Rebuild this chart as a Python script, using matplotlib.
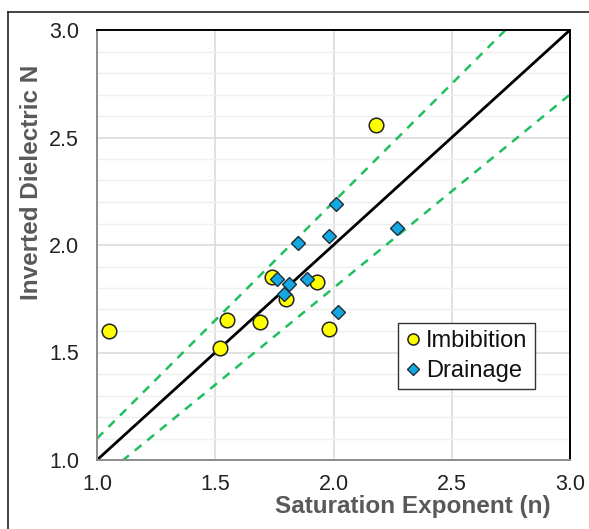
import matplotlib
matplotlib.use("Agg")
import matplotlib.pyplot as plt
import numpy as np
from matplotlib.lines import Line2D
from matplotlib.ticker import MultipleLocator

plt.rcParams['font.family'] = ['Liberation Sans', 'DejaVu Sans']

# Imbibition measurements: saturation exponent n vs inverted dielectric N
imb_n = [1.05, 1.52, 1.55, 1.69, 1.74, 1.80, 1.93, 1.98, 2.18]
imb_N = [1.60, 1.52, 1.65, 1.64, 1.85, 1.75, 1.83, 1.61, 2.56]

# Drainage measurements
dra_n = [1.76, 1.79, 1.81, 1.85, 1.89, 1.98, 2.01, 2.02, 2.27]
dra_N = [1.84, 1.77, 1.82, 2.01, 1.84, 2.04, 2.19, 1.69, 2.08]

# 1:1 reference line and +/-10 % bounds
ref_x = [1.0, 3.0]
band = [1.1, 0.9]

ticks = [1.0, 1.5, 2.0, 2.5, 3.0]
tick_labels = ["1.0", "1.5", "2.0", "2.5", "3.0"]

W, H = 589, 529
fig = plt.figure(figsize=(W / 100, H / 100), dpi=100)
ax = fig.add_axes([97 / W, 1 - 460 / H, (570 - 97) / W, (460 - 30) / H])

ax.set_xlim(1.0, 3.0)
ax.set_ylim(1.0, 3.0)

# grid: major lines both ways, minor horizontal lines every 0.1
ax.yaxis.set_minor_locator(MultipleLocator(0.1))
ax.grid(which='major', color='#D9D9D9', linewidth=1.1, zorder=0)
ax.grid(which='minor', axis='y', color='#EFEFEF', linewidth=1.0, zorder=0)
ax.set_axisbelow(True)

xs = np.array(ref_x)
ax.plot(xs, xs, color='black', linewidth=2.0, zorder=2)
for f in band:
    ax.plot(xs, f * xs, color='#1FBF5F', linewidth=1.8, linestyle=(0, (3.5, 3)),
            zorder=2)

ax.plot(imb_n, imb_N, linestyle='none', marker='o', markersize=10.5,
        markerfacecolor='#FFFF00', markeredgecolor='#222222', markeredgewidth=1.1,
        zorder=3, label='Imbibition')
ax.plot(dra_n, dra_N, linestyle='none', marker='D', markersize=7.0,
        markerfacecolor='#14A8E2', markeredgecolor='#1E2D38', markeredgewidth=1.0,
        zorder=4, label='Drainage')

ax.set_xticks(ticks)
ax.set_xticklabels(tick_labels)
ax.set_yticks(ticks)
ax.set_yticklabels(tick_labels)
ax.tick_params(which='both', length=0, labelsize=15.5, colors='#222222')
ax.tick_params(axis='x', pad=10)
ax.tick_params(axis='y', pad=13)

for side in ('top', 'right'):
    ax.spines[side].set_color('black')
    ax.spines[side].set_linewidth(1.4)
for side in ('left', 'bottom'):
    ax.spines[side].set_color('#8C8C8C')
    ax.spines[side].set_linewidth(1.4)

fig.text(413 / W, 1 - 506 / H, 'Saturation Exponent (n)', ha='center', va='center',
         fontsize=17.5, fontweight='bold', color='#595959')
fig.text(32 / W, 1 - 182 / H, 'Inverted Dielectric N', ha='center', va='center',
         rotation=90, fontsize=17.5, fontweight='bold', color='#595959')

leg_handles = [
    Line2D([], [], linestyle='none', marker='o', markersize=8,
           markerfacecolor='#FFFF00', markeredgecolor='#222222', markeredgewidth=1.1),
    Line2D([], [], linestyle='none', marker='D', markersize=6,
           markerfacecolor='#14A8E2', markeredgecolor='#1E2D38', markeredgewidth=1.0),
]
leg = ax.legend(leg_handles, ['Imbibition', 'Drainage'], loc='upper left',
                bbox_to_anchor=((398 - 97) / (570 - 97), (460 - 323) / (460 - 30)),
                fontsize=17, frameon=True, fancybox=False, edgecolor='#333333',
                framealpha=1, handlelength=0.7, handletextpad=0.2,
                borderpad=0.3, labelspacing=0.35, borderaxespad=0)
leg.get_frame().set_linewidth(1.0)
for t in leg.get_texts():
    t.set_color('#111111')

# outer chart frame
fig.add_artist(Line2D([8 / W, 8 / W], [0, 1 - 12 / H], color='#222222', linewidth=1.2,
                      transform=fig.transFigure))
fig.add_artist(Line2D([8 / W, 1], [1 - 12 / H, 1 - 12 / H], color='#222222',
                      linewidth=1.2, transform=fig.transFigure))

fig.savefig('out.png', dpi=100, facecolor='white')
